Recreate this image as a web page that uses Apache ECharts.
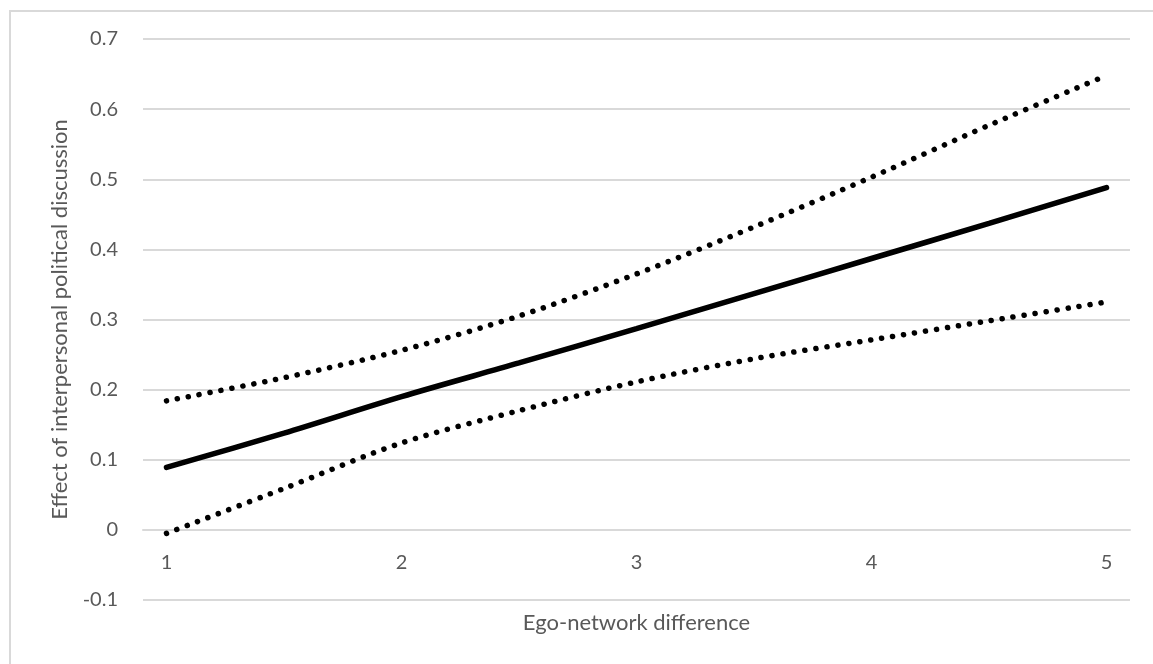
<!DOCTYPE html>
<html>
<head>
<meta charset="utf-8">
<title>Ego-network difference</title>
<script src="https://cdn.jsdelivr.net/npm/echarts@6/dist/echarts.min.js"></script>
<style>
    html, body {margin: 0; padding: 0; background: #fff; overflow: hidden;}
    #chart0 {position: absolute; left: 0; top: 0; width: 1153px; height: 664px;}
    .frame {position: absolute; left: 9px; top: 10px; width: 1200px; height: 700px; border: 2px solid #d9d9d9; pointer-events: none;}
</style>
</head>
<body>
<div id="chart0"></div>
<div class="frame"></div>
<script>
// values
var xValues = [1, 1.5, 2, 2.5, 3, 3.5, 4, 4.5, 5];
var estimate = [0.089, 0.138, 0.190, 0.238, 0.287, 0.337, 0.387, 0.437, 0.488];
var upper = [0.184, 0.217, 0.256, 0.305, 0.365, 0.432, 0.503, 0.577, 0.648];
var lower = [-0.005, 0.059, 0.124, 0.170, 0.211, 0.244, 0.271, 0.298, 0.325];
var xTicks = [1, 2, 3, 4, 5];

function pairs(ys) {
    return xValues.map(function (x, i) { return [x, ys[i]]; });
}

var font = 'Lato, "Open Sans", sans-serif';
var dotted = {color: '#000', width: 5.5, type: [0.1, 11], cap: 'round'};

var option0 = {
    animation: false,
    grid: {left: 143, right: 23, top: 39, bottom: 64, outerBoundsMode: 'none', containLabel: false},
    xAxis: {
        type: 'value',
        min: 0.9,
        max: 5.1,
        // the axis sits on y = 0 (one step above the -0.1 bottom)
        offset: -70,
        name: 'Ego-network difference',
        nameLocation: 'middle',
        nameGap: 82,
        nameTextStyle: {color: '#595959', fontSize: 22, fontFamily: font},
        axisLine: {show: true, onZero: false, lineStyle: {color: '#d9d9d9', width: 2}},
        axisTick: {show: false},
        splitLine: {show: false},
        axisLabel: {
            customValues: xTicks,
            color: '#595959',
            fontSize: 20,
            fontFamily: font,
            margin: 23
        }
    },
    yAxis: {
        type: 'value',
        min: -0.1,
        max: 0.7,
        interval: 0.1,
        name: 'Effect of interpersonal political discussion',
        nameLocation: 'middle',
        nameGap: 72,
        nameTextStyle: {color: '#595959', fontSize: 22, fontFamily: font},
        axisLine: {show: false},
        axisTick: {show: false},
        splitLine: {lineStyle: {color: '#d9d9d9', width: 2}},
        axisLabel: {color: '#595959', fontSize: 20, fontFamily: font, margin: 25}
    },
    series: [
        {
            name: 'upper',
            type: 'line',
            smooth: 0.3,
            showSymbol: false,
            lineStyle: dotted,
            data: pairs(upper)
        },
        {
            name: 'estimate',
            type: 'line',
            smooth: 0.3,
            showSymbol: false,
            lineStyle: {color: '#000', width: 5.5, cap: 'round'},
            data: pairs(estimate)
        },
        {
            name: 'lower',
            type: 'line',
            smooth: 0.3,
            showSymbol: false,
            lineStyle: dotted,
            data: pairs(lower)
        }
    ]
};

var myChart0 = echarts.init(document.getElementById('chart0'));
myChart0.setOption(option0);
</script>
</body>
</html>
